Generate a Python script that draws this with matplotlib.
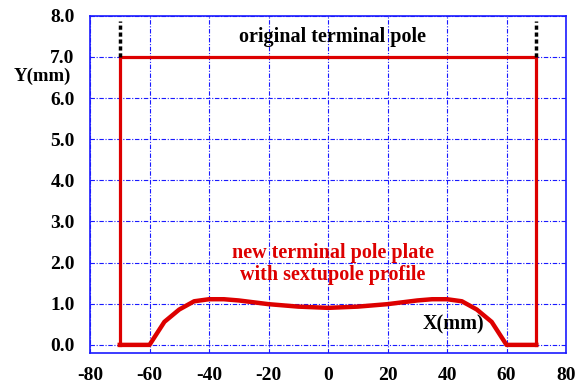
import matplotlib
matplotlib.use('Agg')
from matplotlib import pyplot as plt
import numpy as np

# original pole outline (mm)
pole_x = [-70, -70, 70, 70]
pole_y = [0.0, 7.0, 7.0, 0.0]

# new sextupole profile (mm)
prof_x = [-70, -60, -55, -50, -45, -40, -35, -30, -20, -10, 0, 10, 20, 30, 35, 40, 45, 50, 55, 60, 70]
prof_y = [0.0, 0.0, 0.56, 0.86, 1.06, 1.11, 1.11, 1.08, 0.99, 0.93, 0.9, 0.93, 0.99, 1.08, 1.11, 1.11, 1.06, 0.86, 0.56, 0.0, 0.0]

xticks = [-80, -60, -40, -20, 0, 20, 40, 60, 80]
yticks = [0.0, 1.0, 2.0, 3.0, 4.0, 5.0, 6.0, 7.0, 8.0]

plt.rcParams['font.family'] = ['Liberation Serif', 'DejaVu Serif']

fig = plt.figure(figsize=(5.86, 3.84), dpi=100)
ax = fig.add_axes([0.1536, 0.0815, 0.8123, 0.8775])

ax.plot(pole_x, pole_y, color='#dd0000', lw=2.3, solid_joinstyle='miter')
ax.plot(prof_x, prof_y, color='#dd0000', lw=3.2, solid_joinstyle='round')
ax.plot([-70, -70], [7.0, 7.88], color='black', lw=2.5, ls=(0, (1.2, 0.8)))
ax.plot([70, 70], [7.0, 7.88], color='black', lw=2.5, ls=(0, (1.2, 0.8)))

ax.set_xlim(-80, 80)
ax.set_ylim(-0.19, 8.0)
ax.set_xticks(xticks)
ax.set_yticks(yticks)
ax.set_xticklabels([str(t) for t in xticks], fontweight='bold', fontsize=14)
ax.set_yticklabels(['%.1f' % t for t in yticks], fontweight='bold', fontsize=14)
ax.tick_params(axis='y', length=0, pad=11)
ax.tick_params(axis='x', length=0, pad=10)
ax.grid(True, color='#1a1aff', lw=0.8, ls=(0, (4, 1.5, 1, 1.5)))
for s in ax.spines.values():
    s.set_color('#1a1aff')
    s.set_linewidth(1.2)

ax.text(1.5, 7.48, 'original terminal pole', ha='center', va='center',
        fontweight='bold', fontsize=14.5)
ax.text(1.7, 1.97, 'new terminal pole plate\nwith sextupole profile', ha='center', va='center',
        fontweight='bold', fontsize=14.5, color='#dd0000', linespacing=1.1)
ax.text(42, 0.49, 'X(mm)', ha='center', va='center', fontweight='bold', fontsize=14.5)
fig.text(42 / 586, 1 - 76 / 384, 'Y(mm)', ha='center', va='center', fontweight='bold', fontsize=13.5)

fig.savefig('out.png', dpi=100)
